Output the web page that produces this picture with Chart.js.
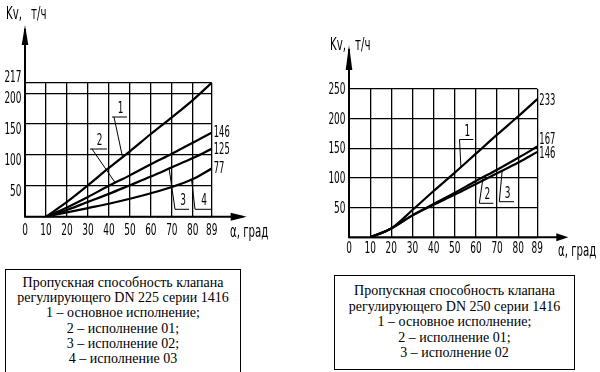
<!DOCTYPE html>
<html>
<head>
<meta charset="utf-8">
<script src="https://cdn.jsdelivr.net/npm/chart.js@4"></script>
<style>
  body { margin: 0; width: 600px; height: 372px; position: relative; overflow: hidden; background: #fff; }
  .wrap { position: absolute; top: 0; }
  .cap { position: absolute; box-sizing: border-box; border: 1.5px solid #000; text-align: center;
         font-family: "Liberation Serif", "Times New Roman", serif; font-size: 14px; color: #000; }
</style>
</head>
<body>
<div class="wrap" style="left:0"><canvas id="c1" width="300" height="262"></canvas></div>
<div class="wrap" style="left:300px"><canvas id="c2" width="300" height="272"></canvas></div>
<div class="cap" style="left:5px;top:269px;width:236px;height:110px;padding-top:5px;line-height:15.2px">
  Пропускная способность клапана<br>регулирующего DN 225 серии 1416<br>1 – основное исполнение;<br>2 – исполнение 01;<br>3 – исполнение 02;<br>4 – исполнение 03
</div>
<div class="cap" style="left:334px;top:275px;width:241px;height:95px;padding-top:7px;line-height:15.6px">
  Пропускная способность клапана<br>регулирующего DN 250 серии 1416<br>1 – основное исполнение;<br>2 – исполнение 01;<br>3 – исполнение 02
</div>
<script>
// угол открытия, град
const xDeg = [10, 20, 30, 40, 50, 60, 70, 80, 89];
const xTicks = [0, 10, 20, 30, 40, 50, 60, 70, 80, 89];

// DN 225
const dn225Ticks = [0, 50, 100, 150, 200, 217];
const dn225_1 = [0, 24, 51, 79, 106, 134, 161, 189, 217];
const dn225_2 = [0, 15, 32, 50, 67, 85, 102, 120, 136];
const dn225_3 = [0, 11, 24, 37, 51, 65, 80, 95, 110];
const dn225_4 = [0, 7, 14, 21, 29, 38, 48, 61, 78];
const dn225Ends = ["146", "125", "77"];

// DN 250
const dn250Ticks = [0, 50, 100, 150, 200, 250];
const dn250_1 = [0, 15, 46, 78, 109, 141, 173, 204, 233];
const dn250_2 = [0, 15, 37, 56, 75, 95, 114, 134, 153];
const dn250_3 = [0, 15, 37, 55, 72, 90, 108, 126, 144];
const dn250Ends = ["233", "167", "146"];

const FONT = '"DejaVu Sans", sans-serif';

function txt(ctx, s, x, y, align, size, sx) {
  ctx.save();
  ctx.translate(x, y);
  ctx.scale(sx || 0.56, 1);
  ctx.font = size + "px " + FONT;
  ctx.textAlign = align;
  ctx.textBaseline = "middle";
  ctx.fillStyle = "#000";
  ctx.fillText(s, 0, 0);
  ctx.restore();
}

function valAt(ys, x) {
  for (let i = 1; i < xDeg.length; i++) {
    if (x <= xDeg[i]) {
      const t = (x - xDeg[i - 1]) / (xDeg[i] - xDeg[i - 1]);
      return ys[i - 1] + t * (ys[i] - ys[i - 1]);
    }
  }
  return ys[ys.length - 1];
}

const sketch = {
  id: "sketch",
  afterDraw(chart, args, o) {
    const ctx = chart.ctx, xs = chart.scales.x, ys = chart.scales.y;
    const L = xs.getPixelForValue(0), B = ys.getPixelForValue(0);
    ctx.save();
    ctx.strokeStyle = "#000";
    ctx.fillStyle = "#000";
    // оси со стрелками
    ctx.lineWidth = 2;
    ctx.beginPath();
    ctx.moveTo(L, B + 1); ctx.lineTo(L, o.yTip + 4);
    ctx.moveTo(L - 1, B); ctx.lineTo(o.xTip - 4, B);
    ctx.stroke();
    ctx.beginPath();
    ctx.moveTo(L, o.yTip); ctx.lineTo(L - 3.3, o.yTip + o.yHead); ctx.lineTo(L + 3.3, o.yTip + o.yHead);
    ctx.closePath(); ctx.fill();
    ctx.beginPath();
    ctx.moveTo(o.xTip, B); ctx.lineTo(o.xTip - o.xHead, B - 4); ctx.lineTo(o.xTip - o.xHead, B + 4);
    ctx.closePath(); ctx.fill();

    // подписи делений
    o.yTicks.forEach((v, i) => {
      if (v === 0) return;
      const last = i === o.yTicks.length - 1;
      const dy = last && o.topDy !== undefined ? o.topDy : o.yDy;
      txt(ctx, String(v), L - 3.5, ys.getPixelForValue(v) + dy, "right", 16);
    });
    xTicks.forEach(v => txt(ctx, String(v), xs.getPixelForValue(v), B + o.xDy, "center", 16));

    // названия осей
    txt(ctx, "Kv,", L - 3, o.yTitleY, "right", 17, 0.6);
    txt(ctx, "т/ч", L + 6, o.yTitleY, "left", 17, 0.6);
    txt(ctx, "α, град", o.xTitle[0], o.xTitle[1], "left", 17, 0.6);

    // значения на концах линий
    o.ends.forEach(e => {
      const ds = chart.data.datasets[e.i].values;
      txt(ctx, e.text, xs.getPixelForValue(89) + 2, ys.getPixelForValue(ds[ds.length - 1]) + e.dy, "left", 15);
    });

    // выноски с номерами
    ctx.lineWidth = 1;
    o.leaders.forEach(l => {
      const ds = chart.data.datasets[l.i].values;
      const px = xs.getPixelForValue(l.at), py = ys.getPixelForValue(valAt(ds, l.at));
      ctx.beginPath();
      ctx.moveTo(l.shelf[0], l.shelf[2]); ctx.lineTo(l.shelf[1], l.shelf[2]);
      ctx.moveTo(l.from, l.shelf[2]); ctx.lineTo(px, py);
      ctx.stroke();
      txt(ctx, l.text, (l.shelf[0] + l.shelf[1]) / 2 + 1, l.shelf[2] - 8, "center", 16);
    });
    ctx.restore();
  }
};

function makeChart(id, series, yTicks, pad, opts) {
  new Chart(document.getElementById(id), {
    type: "line",
    data: {
      datasets: series.map(s => ({
        values: s,
        data: xDeg.map((x, i) => ({ x: x, y: s[i] })),
        borderColor: "#000",
        borderWidth: 2.2,
        pointRadius: 0,
        cubicInterpolationMode: "monotone",
        fill: false
      }))
    },
    options: {
      responsive: false,
      animation: false,
      layout: { padding: pad },
      scales: {
        x: {
          type: "linear", min: 0, max: 89,
          afterBuildTicks: s => { s.ticks = xTicks.map(v => ({ value: v })); },
          ticks: { display: false },
          border: { display: false },
          grid: { color: "#000", lineWidth: 1.3, drawTicks: false }
        },
        y: {
          type: "linear", min: 0, max: yTicks[yTicks.length - 1],
          afterBuildTicks: s => { s.ticks = yTicks.map(v => ({ value: v })); },
          ticks: { display: false },
          border: { display: false },
          grid: { color: "#000", lineWidth: 1.3, drawTicks: false }
        }
      },
      plugins: { legend: { display: false }, tooltip: { enabled: false }, sketch: opts }
    },
    plugins: [sketch]
  });
}

makeChart("c1", [dn225_1, dn225_2, dn225_3, dn225_4], dn225Ticks,
  { left: 25, right: 88.3, top: 82.8, bottom: 45.3 },
  {
    yTicks: dn225Ticks, yDy: 6, topDy: -5, xDy: 14,
    yTip: 25, yHead: 20, xTip: 246.7, xHead: 16,
    yTitleY: 15, xTitle: [230, 233],
    ends: [{ i: 1, text: dn225Ends[0], dy: 0 }, { i: 2, text: dn225Ends[1], dy: 1 }, { i: 3, text: dn225Ends[2], dy: 1 }],
    leaders: [
      { text: "1", i: 0, at: 46.5, shelf: [112, 127, 117], from: 114 },
      { text: "2", i: 1, at: 43, shelf: [90, 107, 149], from: 92 },
      { text: "3", i: 2, at: 68.7, shelf: [175, 189, 209.3], from: 175 },
      { text: "4", i: 3, at: 79.4, shelf: [195, 211, 209.3], from: 195 }
    ]
  });

makeChart("c2", [dn250_1, dn250_2, dn250_3], dn250Ticks,
  { left: 49, right: 62.7, top: 89, bottom: 34.7 },
  {
    yTicks: dn250Ticks, yDy: 1, xDy: 12,
    yTip: 45, yHead: 25, xTip: 268.3, xHead: 12,
    yTitleY: 46, xTitle: [258, 252],
    ends: [{ i: 0, text: dn250Ends[0], dy: 2 }, { i: 1, text: dn250Ends[1], dy: -6.5 }, { i: 2, text: dn250Ends[2], dy: 2 }],
    leaders: [
      { text: "1", i: 0, at: 52.9, shelf: [159.5, 173.3, 139.5], from: 159.5 },
      { text: "2", i: 1, at: 63.4, shelf: [179.3, 193.3, 203.3], from: 179.3 },
      { text: "3", i: 2, at: 72.4, shelf: [199.3, 214, 201.7], from: 199.3 }
    ]
  });
</script>
</body>
</html>
